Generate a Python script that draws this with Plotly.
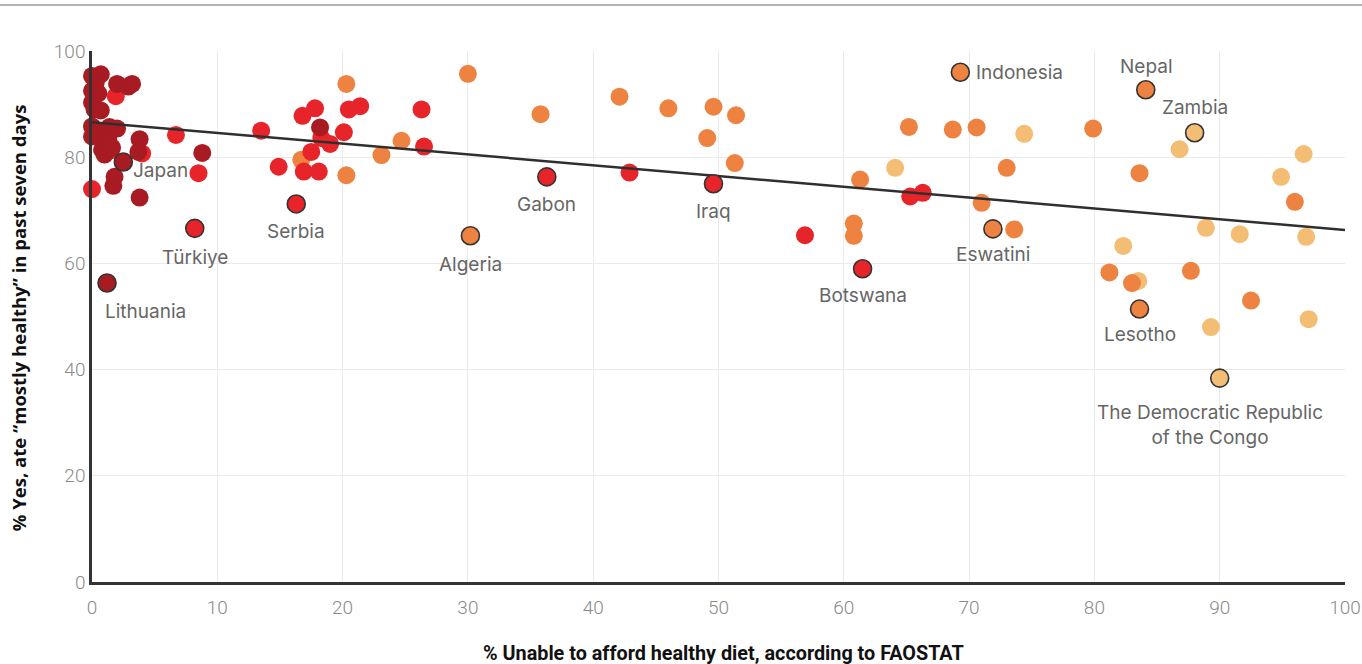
import plotly.graph_objects as go

# ---- data ----
dark_x = [0.0, 0.7, 0.3, 0.0, 0.5, 0.0, 0.2, 0.7, 0.0, 0.3, 0.7, 1.4, 2.0, 1.3, 0.8, 1.6, 1.0,
          2.0, 2.9, 3.2, 3.8, 3.7, 1.8, 1.7, 3.8, 8.8, 18.2, 0.0]
dark_y = [95.3, 95.6, 94.0, 92.5, 92.0, 90.3, 89.0, 88.8, 85.8, 84.2, 84.8, 85.7, 85.4, 83.2, 81.4, 81.8, 80.5,
          93.8, 93.3, 93.8, 83.4, 81.0, 76.3, 74.6, 72.4, 80.8, 85.6, 83.9]

red_x = [1.9, 1.5, 4.0, 0.0, 6.7, 8.5, 13.5, 14.9, 16.8, 17.8, 17.5, 19.0, 18.3, 16.9, 18.1,
         20.1, 20.5, 21.4, 26.3, 26.5, 42.9, 56.9, 65.3, 66.3]
red_y = [91.5, 81.3, 80.7, 74.0, 84.2, 77.0, 85.0, 78.2, 87.8, 89.2, 81.0, 82.5, 83.6, 77.3, 77.3,
         84.7, 89.0, 89.6, 89.0, 82.0, 77.1, 65.3, 72.6, 73.3]

orange_x = [16.7, 20.3, 20.3, 23.1, 24.7, 30.0, 35.8, 42.1, 46.0, 49.6, 51.4, 49.1, 51.3, 60.8, 60.8,
            61.3, 65.2, 68.7, 70.6, 71.0, 73.0, 73.6, 79.9, 83.6, 96.0, 81.2, 83.0, 87.7, 92.5]
orange_y = [79.5, 93.8, 76.6, 80.4, 83.1, 95.7, 88.1, 91.4, 89.2, 89.5, 87.9, 83.6, 78.9, 67.5, 65.2,
            75.8, 85.7, 85.2, 85.6, 71.4, 78.0, 66.4, 85.4, 77.0, 71.6, 58.3, 56.3, 58.6, 53.0]

light_x = [64.1, 74.4, 86.8, 96.7, 94.9, 88.9, 91.6, 96.9, 82.3, 83.5, 89.3, 97.1]
light_y = [78.0, 84.4, 81.5, 80.6, 76.3, 66.7, 65.5, 65.0, 63.3, 56.7, 48.0, 49.5]

# labelled countries
label_names = ["Lithuania", "Japan", "Türkiye", "Serbia", "Algeria", "Gabon", "Iraq", "Botswana",
               "Indonesia", "Nepal", "Zambia", "Eswatini", "Lesotho",
               "The Democratic Republic<br>of the Congo"]
label_x = [1.2, 2.5, 8.2, 16.3, 30.2, 36.3, 49.6, 61.5, 69.3, 84.1, 88.0, 71.9, 83.6, 90.0]
label_y = [56.3, 79.1, 66.6, 71.2, 65.2, 76.3, 75.0, 59.0, 96.0, 92.7, 84.6, 66.5, 51.4, 38.4]
label_group = ["dark", "dark", "red", "red", "orange", "red", "red", "red",
               "orange", "orange", "light", "orange", "orange", "light"]

trend_x = [0, 100]
trend_y = [86.6, 66.3]

x_ticks = [0, 10, 20, 30, 40, 50, 60, 70, 80, 90, 100]
y_ticks = [0, 20, 40, 60, 80, 100]

# ---- styles ----
colors = {"dark": "#A81B22", "red": "#E8242B", "orange": "#EE8241", "light": "#F3BE74"}
MS = 18

fig = go.Figure()

for key, xs, ys in [("light", light_x, light_y), ("orange", orange_x, orange_y),
                    ("red", red_x, red_y), ("dark", dark_x, dark_y)]:
    fig.add_trace(go.Scatter(x=xs, y=ys, mode="markers", cliponaxis=False, hoverinfo="skip",
                             marker=dict(size=MS, color=colors[key], line=dict(width=0)),
                             showlegend=False))

fig.add_trace(go.Scatter(x=trend_x, y=trend_y, mode="lines", line=dict(color="#2f2f2f", width=2.5),
                         hoverinfo="skip", showlegend=False, cliponaxis=False))

fig.add_trace(go.Scatter(x=label_x, y=label_y, mode="markers", cliponaxis=False, hoverinfo="skip",
                         marker=dict(size=MS, color=[colors[g] for g in label_group],
                                     line=dict(width=1.6, color="#333333")),
                         showlegend=False))

# label placement (pixel offsets relative to the point)
offsets = {
    "Lithuania": (-4, -28, "left"),
    "Japan": (8, -9, "left"),
    "Türkiye": (0, -29, "center"),
    "Serbia": (0, -28, "center"),
    "Algeria": (0, -29, "center"),
    "Gabon": (0, -28, "center"),
    "Iraq": (0, -28, "center"),
    "Botswana": (0, -27, "center"),
    "Indonesia": (14, 0, "left"),
    "Nepal": (0, 23, "center"),
    "Zambia": (0, 25, "center"),
    "Eswatini": (0, -26, "center"),
    "Lesotho": (0, -25, "center"),
    "The Democratic Republic<br>of the Congo": (-10, -47, "center"),
}
for name, x, y in zip(label_names, label_x, label_y):
    dx, dy, anchor = offsets[name]
    fig.add_annotation(x=x, y=y, xref="x", yref="y", text=name, showarrow=False,
                       xanchor=anchor, yanchor="middle", xshift=dx, yshift=dy,
                       font=dict(family="Inter", size=19, color="#666666"), align="center")

# axis titles
fig.add_annotation(x=0.5036, y=-0.134, xref="paper", yref="paper", showarrow=False,
                   text="<b>% Unable to afford healthy diet, according to FAOSTAT</b>",
                   font=dict(family="Roboto", size=19.8, color="#111111"),
                   xanchor="center", yanchor="middle")
fig.add_annotation(x=-0.059, y=0.497, xref="paper", yref="paper", showarrow=False,
                   text="<b>% Yes, ate “mostly healthy” in past seven days</b>", textangle=-90,
                   font=dict(family="Open Sans", size=18.5, color="#111111"),
                   xanchor="center", yanchor="middle")

# top separator line
fig.add_shape(type="line", xref="paper", yref="paper", x0=-0.0734, x1=1.0136, y0=1.0866, y1=1.0866,
              line=dict(color="#9a9a9a", width=1.5))

tick_font = dict(family="Roboto", size=19, color="#8a8a8a", weight=300)
fig.update_xaxes(range=[0, 100], tickvals=x_ticks, showgrid=True, gridcolor="#ebebeb", gridwidth=1,
                 showline=True, linecolor="#333333", linewidth=2.5, zeroline=False, ticks="",
                 tickfont=tick_font, ticklabelstandoff=6, fixedrange=True)
fig.update_yaxes(range=[0, 100], tickvals=y_ticks, showgrid=True, gridcolor="#ebebeb", gridwidth=1,
                 showline=True, linecolor="#333333", linewidth=2.5, zeroline=False, ticks="",
                 tickfont=tick_font, fixedrange=True)

fig.update_layout(width=1362, height=664, autosize=False,
                  margin=dict(l=92, r=17, t=51, b=82, autoexpand=False),
                  plot_bgcolor="white", paper_bgcolor="white")

fig.write_html("out.html", config={"displayModeBar": False},
               post_script="document.body.style.margin='0px';document.body.style.overflow='hidden';")
